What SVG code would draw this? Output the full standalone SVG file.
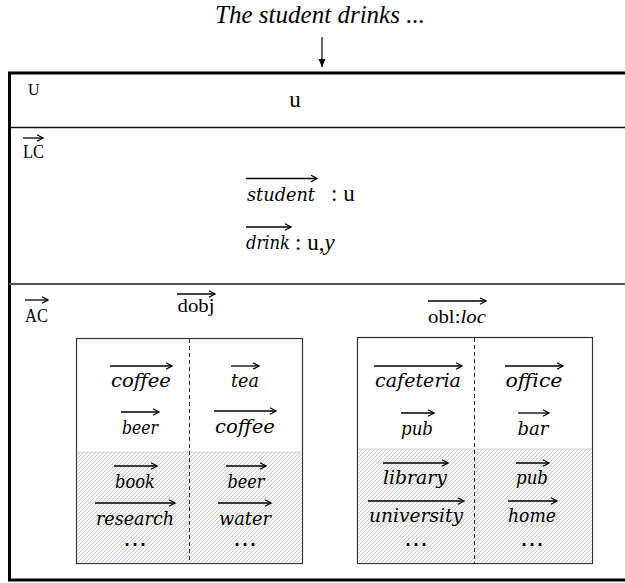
<svg xmlns="http://www.w3.org/2000/svg" width="625" height="583" viewBox="0 0 625 583">
<style>
.t{font-family:"Liberation Serif","Times New Roman",serif;fill:#000}
.m{font-family:"DejaVu Serif","Liberation Serif",serif;font-style:italic;font-size:18px;fill:#000;text-anchor:middle}
.v{stroke:#000;stroke-width:1.3;fill:none;marker-end:url(#oa)}
.box{fill:#fff;stroke:#333;stroke-width:1.2}
.dash{stroke:#333;stroke-width:1;stroke-dasharray:4 3}
.dots{font-family:"DejaVu Serif",serif;font-size:22px;text-anchor:middle;fill:#000}
</style>
<defs>
<marker id="oa" markerUnits="userSpaceOnUse" markerWidth="10" markerHeight="10" refX="7" refY="4" orient="auto">
<path d="M1,0.8 L7,4 L1,7.2" fill="none" stroke="#000" stroke-width="1.3"/>
</marker>
<marker id="fa" markerUnits="userSpaceOnUse" markerWidth="10" markerHeight="10" refX="8" refY="4" orient="auto">
<path d="M0,0.5 L8,4 L0,7.5 Z" fill="#000"/>
</marker>
<pattern id="hatch" patternUnits="userSpaceOnUse" width="4" height="4">
<rect width="4" height="4" fill="#f4f4f4"/>
<path d="M-1,1 L1,-1 M0,4 L4,0 M3,5 L5,3" stroke="#c4c4c4" stroke-width="0.8"/>
</pattern>
</defs>

<g id="title">
<text class="t" x="320" y="23" font-size="25" font-style="italic" text-anchor="middle" textLength="210" lengthAdjust="spacingAndGlyphs">The student drinks ...</text>
</g>

<g id="connectors">
<line x1="322" y1="37" x2="322" y2="67" stroke="#000" stroke-width="1.2" marker-end="url(#fa)"/>
</g>

<g id="frame">
<path d="M627,73 H9.5 V580 H627" fill="none" stroke="#000" stroke-width="3"/>
<line x1="9" y1="127.5" x2="627" y2="127.5" stroke="#111" stroke-width="1.3"/>
<line x1="9" y1="284" x2="627" y2="284" stroke="#555" stroke-width="1.8"/>
</g>

<g id="U">
<text class="t" x="28" y="95" font-size="16">U</text>
<text class="t" x="295" y="107" font-size="23" text-anchor="middle">u</text>
</g>

<g id="LC">
<path class="v" d="M23,138 H43"/>
<text class="t" x="23" y="158" font-size="19" textLength="21" lengthAdjust="spacingAndGlyphs">LC</text>
<path class="v" d="M246,178.5 H317"/>
<text class="m" x="281" y="201" textLength="68" lengthAdjust="spacingAndGlyphs">student</text>
<text class="t" x="331" y="201" font-size="23">: u</text>
<path class="v" d="M246,227 H291"/>
<text class="m" x="268" y="249" textLength="44" lengthAdjust="spacingAndGlyphs">drink</text>
<text class="t" x="295" y="250" font-size="23">: u,<tspan font-style="italic">y</tspan></text>
</g>

<g id="AC">
<path class="v" d="M25,300 H48"/>
<text class="t" x="25" y="322" font-size="19" textLength="23" lengthAdjust="spacingAndGlyphs">AC</text>
</g>

<g id="dobj">
<path class="v" d="M177,294 H215"/>
<text class="t" x="196" y="312" font-size="18" text-anchor="middle" textLength="37" lengthAdjust="spacingAndGlyphs">dobj</text>
<rect class="box" x="76.5" y="338.5" width="226" height="225"/>
<rect x="77" y="452" width="225" height="111" fill="url(#hatch)"/>
<line x1="77" y1="452" x2="302" y2="452" stroke="#ccc" stroke-width="0.8"/>
<line class="dash" x1="189.5" y1="339" x2="189.5" y2="563"/>
<path class="v" d="M110,366 H172"/>
<text class="m" x="141" y="387" textLength="60" lengthAdjust="spacingAndGlyphs">coffee</text>
<path class="v" d="M121,412 H159"/>
<text class="m" x="140" y="434" textLength="36" lengthAdjust="spacingAndGlyphs">beer</text>
<path class="v" d="M114,466 H157"/>
<text class="m" x="135" y="488" textLength="40" lengthAdjust="spacingAndGlyphs">book</text>
<path class="v" d="M95,503 H175"/>
<text class="m" x="135" y="525" textLength="78" lengthAdjust="spacingAndGlyphs">research</text>
<text class="dots" x="135" y="551" textLength="24" lengthAdjust="spacingAndGlyphs">⋯</text>
<path class="v" d="M231,366 H259"/>
<text class="m" x="245" y="387" textLength="28" lengthAdjust="spacingAndGlyphs">tea</text>
<path class="v" d="M214,411 H276"/>
<text class="m" x="245" y="433" textLength="60" lengthAdjust="spacingAndGlyphs">coffee</text>
<path class="v" d="M226,466 H266"/>
<text class="m" x="246" y="488" textLength="37" lengthAdjust="spacingAndGlyphs">beer</text>
<path class="v" d="M218,503 H271"/>
<text class="m" x="245" y="525" textLength="52" lengthAdjust="spacingAndGlyphs">water</text>
<text class="dots" x="245" y="551" textLength="24" lengthAdjust="spacingAndGlyphs">⋯</text>
</g>

<g id="obl">
<path class="v" d="M428,301 H486"/>
<text class="t" x="428" y="323" font-size="18" textLength="58" lengthAdjust="spacingAndGlyphs">obl:<tspan font-style="italic">loc</tspan></text>
<rect class="box" x="357.5" y="337.5" width="235" height="226"/>
<rect x="358" y="449" width="234" height="114" fill="url(#hatch)"/>
<line x1="358" y1="449" x2="592" y2="449" stroke="#ccc" stroke-width="0.8"/>
<line class="dash" x1="474.5" y1="338" x2="474.5" y2="563"/>
<path class="v" d="M374,366 H462"/>
<text class="m" x="418" y="387" textLength="86" lengthAdjust="spacingAndGlyphs">cafeteria</text>
<path class="v" d="M401,413 H434"/>
<text class="m" x="417" y="435" textLength="32" lengthAdjust="spacingAndGlyphs">pub</text>
<path class="v" d="M383,463 H448"/>
<text class="m" x="415" y="484" textLength="64" lengthAdjust="spacingAndGlyphs">library</text>
<path class="v" d="M368,501 H464"/>
<text class="m" x="416" y="522" textLength="94" lengthAdjust="spacingAndGlyphs">university</text>
<text class="dots" x="416" y="551" textLength="24" lengthAdjust="spacingAndGlyphs">⋯</text>
<path class="v" d="M505,366 H563"/>
<text class="m" x="534" y="387" textLength="57" lengthAdjust="spacingAndGlyphs">office</text>
<path class="v" d="M518,413 H549"/>
<text class="m" x="533" y="435" textLength="31" lengthAdjust="spacingAndGlyphs">bar</text>
<path class="v" d="M516,463 H549"/>
<text class="m" x="532" y="484" textLength="32" lengthAdjust="spacingAndGlyphs">pub</text>
<path class="v" d="M508,501 H557"/>
<text class="m" x="532" y="522" textLength="48" lengthAdjust="spacingAndGlyphs">home</text>
<text class="dots" x="532" y="551" textLength="24" lengthAdjust="spacingAndGlyphs">⋯</text>
</g>
</svg>
